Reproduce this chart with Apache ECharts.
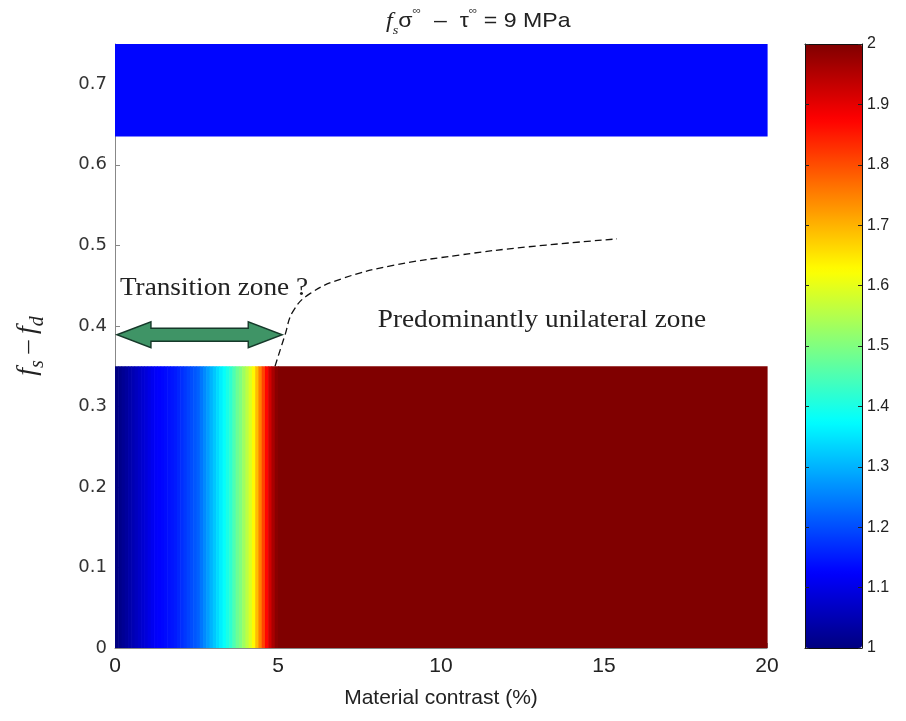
<!DOCTYPE html>
<html>
<head>
<meta charset="utf-8">
<script src="https://cdn.jsdelivr.net/npm/echarts@6/dist/echarts.min.js"></script>
<style>
  html, body { margin: 0; padding: 0; background: #fff; }
  #main { width: 906px; height: 721px; }
</style>
</head>
<body>
<div id="main"></div>
<script>
// Material contrast bin edges (%) across the lower band; the last bin runs to 20 %
const contrastEdges = [
  0.0, 0.1, 0.2, 0.3, 0.4, 0.5, 0.6, 0.7, 0.8, 0.9,
  1.0, 1.1, 1.2, 1.3, 1.4, 1.5, 1.6, 1.7, 1.8, 1.9,
  2.0, 2.1, 2.2, 2.3, 2.4, 2.5, 2.6, 2.7, 2.8, 2.9,
  3.0, 3.1, 3.2, 3.3, 3.4, 3.5, 3.6, 3.7, 3.8, 3.9,
  4.0, 4.1, 4.2, 4.3, 4.4, 4.5, 4.6, 4.7, 4.8, 4.9,
  5.0, 20.0
];
// Ratio in each contrast bin (lower band, fs - fd from 0 to 0.35)
const lowerBandValues = [
  1.00, 1.01, 1.02, 1.03, 1.04, 1.05, 1.06, 1.07, 1.08, 1.09,
  1.10, 1.11, 1.12, 1.125, 1.13, 1.135, 1.14, 1.145, 1.15, 1.16,
  1.17, 1.18, 1.19, 1.20, 1.21, 1.22, 1.24, 1.26, 1.28, 1.30,
  1.32, 1.34, 1.36, 1.38, 1.40, 1.42, 1.45, 1.48, 1.50, 1.53,
  1.56, 1.59, 1.63, 1.69, 1.75, 1.81, 1.87, 1.92, 1.96, 1.99,
  2.00
];
const lowerBandRange = [0, 0.35];
// Upper band (fs - fd from 0.635 to 0.75), uniform over the whole contrast range
const upperBandRange = [0.635, 0.75];
const upperBandContrast = [0, 20];
const upperBandValue = 1.13;

// Dashed boundary of the predominantly unilateral zone
const boundaryContrast = [4.91, 5.21, 5.46, 5.98, 6.99, 8.53, 10.58, 12.64, 15.40];
const boundaryFriction = [0.350, 0.388, 0.418, 0.440, 0.459, 0.475, 0.488, 0.498, 0.508];

// Transition-zone arrow extent and annotation texts
const arrowContrast = [0.06, 5.13];
const arrowFriction = 0.389;
const noteTexts = ['Transition zone ?', 'Predominantly unilateral zone'];
const noteContrast = [0.15, 8.06];
const noteFriction = [0.447, 0.407];

// Tick settings
const xTicks = { min: 0, max: 20, interval: 5 };
const yTicks = { min: 0, max: 0.75, interval: 0.1 };
const colorTicks = { min: 1, max: 2, interval: 0.1 };

const jet = ['#000080', '#0000ff', '#0080ff', '#00ffff', '#80ff80',
             '#ffff00', '#ff8000', '#ff0000', '#800000'];

// Cells: [x0, x1, y0, y1, value]
const cells = [];
for (let i = 0; i < lowerBandValues.length; i++) {
  cells.push([contrastEdges[i], contrastEdges[i + 1],
              lowerBandRange[0], lowerBandRange[1], lowerBandValues[i]]);
}
cells.push([upperBandContrast[0], upperBandContrast[1],
            upperBandRange[0], upperBandRange[1], upperBandValue]);

const boundary = boundaryContrast.map((x, i) => [x, boundaryFriction[i]]);
const notes = noteTexts.map((t, i) => [noteContrast[i], noteFriction[i], t]);

const chart = echarts.init(document.getElementById('main'), null, { renderer: 'canvas' });

const sans = 'Liberation Sans, Arial, sans-serif';
const serif = 'Liberation Serif, Times New Roman, serif';

chart.setOption({
  backgroundColor: '#ffffff',
  animation: false,
  graphic: [
    {
      // Title: loading condition
      type: 'text',
      left: 386,
      top: 5,
      scaleX: 1.1,
      silent: true,
      style: {
        text: '{fi|f}{sub|s}{n|σ}{sup|∞}{n|  –  τ}{sup|∞}{n| = 9 MPa}',
        rich: {
          fi: { fontFamily: serif, fontStyle: 'italic', fontSize: 22, fill: '#222', lineHeight: 32 },
          sub: { fontFamily: serif, fontStyle: 'italic', fontSize: 13, fill: '#222',
                 verticalAlign: 'bottom', lineHeight: 32 },
          n: { fontFamily: sans, fontSize: 21, fill: '#222', lineHeight: 32 },
          sup: { fontFamily: sans, fontSize: 11, fill: '#444', verticalAlign: 'top', lineHeight: 32 }
        }
      }
    }
  ],
  grid: [
    { left: 115, right: 139, top: 44, bottom: 73 },
    { left: 805, top: 44, width: 57, height: 604 }
  ],
  xAxis: [
    {
      gridIndex: 0, type: 'value', min: xTicks.min, max: xTicks.max, interval: xTicks.interval,
      name: 'Material contrast (%)', nameLocation: 'middle', nameGap: 40,
      nameTextStyle: { fontFamily: sans, fontSize: 21, color: '#222' },
      axisLine: { show: true, lineStyle: { color: '#888', width: 1 } },
      axisTick: { show: true, inside: true, length: 5, lineStyle: { color: '#888' } },
      axisLabel: { fontFamily: sans, fontSize: 21, color: '#222', margin: 8 },
      splitLine: { show: false }
    },
    {
      gridIndex: 1, type: 'value', min: 0, max: 1, position: 'bottom', z: 10,
      axisLine: { show: true, onZero: false, lineStyle: { color: '#111', width: 1 } },
      axisTick: { show: false }, axisLabel: { show: false }, splitLine: { show: false }
    },
    {
      gridIndex: 1, type: 'value', min: 0, max: 1, position: 'top', z: 10,
      axisLine: { show: true, onZero: false, lineStyle: { color: '#111', width: 1 } },
      axisTick: { show: false }, axisLabel: { show: false }, splitLine: { show: false }
    }
  ],
  yAxis: [
    {
      gridIndex: 0, type: 'value', min: yTicks.min, max: yTicks.max, interval: yTicks.interval,
      name: '{fi|f}{sub|s}{n| – }{fi|f}{sub|d}', nameLocation: 'middle', nameGap: 67,
      nameTextStyle: {
        rich: {
          fi: { fontFamily: serif, fontStyle: 'italic', fontSize: 28, color: '#222', lineHeight: 40 },
          sub: { fontFamily: serif, fontStyle: 'italic', fontSize: 20, color: '#222',
                 verticalAlign: 'bottom', lineHeight: 40 },
          n: { fontFamily: serif, fontSize: 26, color: '#222', lineHeight: 40 }
        }
      },
      axisLine: { show: true, lineStyle: { color: '#888', width: 1 } },
      axisTick: { show: true, inside: true, length: 5, lineStyle: { color: '#888' } },
      axisLabel: {
        fontFamily: 'DejaVu Sans, sans-serif', fontSize: 18, color: '#333', margin: 8,
        showMaxLabel: false,
        formatter: v => (v > 0.72 ? '' : (v === 0 ? '0' : v.toFixed(1)))
      },
      splitLine: { show: false }
    },
    {
      gridIndex: 1, type: 'value', position: 'left', z: 10,
      min: colorTicks.min, max: colorTicks.max, interval: colorTicks.interval,
      axisLine: { show: true, onZero: false, lineStyle: { color: '#111', width: 1 } },
      axisTick: { show: true, inside: true, length: 4, lineStyle: { color: '#222' } },
      axisLabel: { show: false }, splitLine: { show: false }
    },
    {
      gridIndex: 1, type: 'value', position: 'right', z: 10,
      min: colorTicks.min, max: colorTicks.max, interval: colorTicks.interval,
      axisLine: { show: true, onZero: false, lineStyle: { color: '#111', width: 1 } },
      axisTick: { show: true, inside: true, length: 4, lineStyle: { color: '#222' } },
      axisLabel: { show: true, fontFamily: sans, fontSize: 16, color: '#222', margin: 5 },
      splitLine: { show: false }
    }
  ],
  visualMap: {
    type: 'continuous',
    min: colorTicks.min, max: colorTicks.max,
    dimension: 4, seriesIndex: 0,
    left: 805, top: 44, itemWidth: 57, itemHeight: 604, padding: 0,
    calculable: false, hoverLink: false, text: null, realtime: false,
    inRange: { color: jet },
    z: 1
  },
  series: [
    {
      name: 'ratio',
      type: 'custom',
      xAxisIndex: 0, yAxisIndex: 0,
      encode: { x: [0, 1], y: [2, 3] },
      data: cells,
      z: 2,
      renderItem: (params, api) => {
        const p0 = api.coord([api.value(0), api.value(3)]);
        const p1 = api.coord([api.value(1), api.value(2)]);
        return {
          type: 'rect',
          shape: { x: p0[0], y: p0[1], width: p1[0] - p0[0] + 0.6, height: p1[1] - p0[1] },
          style: { fill: api.visual('color') }
        };
      }
    },
    {
      name: 'boundary',
      type: 'line',
      xAxisIndex: 0, yAxisIndex: 0,
      data: boundary,
      smooth: 0.45,
      showSymbol: false,
      z: 4,
      lineStyle: { color: '#111', width: 1.3, type: [7, 4] }
    },
    {
      name: 'arrow',
      type: 'custom',
      xAxisIndex: 0, yAxisIndex: 0,
      data: [[arrowContrast[0], arrowContrast[1], arrowFriction]],
      z: 5,
      renderItem: (params, api) => {
        const a = api.coord([api.value(0), api.value(2)]);
        const b = api.coord([api.value(1), api.value(2)]);
        const y = a[1], hb = 6.5, hh = 13, hl = 34;
        const pts = [
          [a[0], y], [a[0] + hl, y - hh], [a[0] + hl, y - hb],
          [b[0] - hl, y - hb], [b[0] - hl, y - hh], [b[0], y],
          [b[0] - hl, y + hh], [b[0] - hl, y + hb], [a[0] + hl, y + hb],
          [a[0] + hl, y + hh]
        ];
        return {
          type: 'polygon',
          shape: { points: pts },
          style: { fill: '#3f9466', stroke: '#16392a', lineWidth: 1.4 }
        };
      }
    },
    {
      name: 'notes',
      type: 'custom',
      xAxisIndex: 0, yAxisIndex: 0,
      data: notes,
      z: 6,
      renderItem: (params, api) => {
        const p = api.coord([api.value(0), api.value(1)]);
        return {
          type: 'text',
          x: p[0], y: p[1],
          scaleX: 1.09,
          style: {
            text: notes[params.dataIndex][2],
            fontFamily: serif, fontSize: 25, fill: '#222',
            textAlign: 'left', textVerticalAlign: 'middle'
          }
        };
      }
    }
  ]
});
</script>
</body>
</html>
